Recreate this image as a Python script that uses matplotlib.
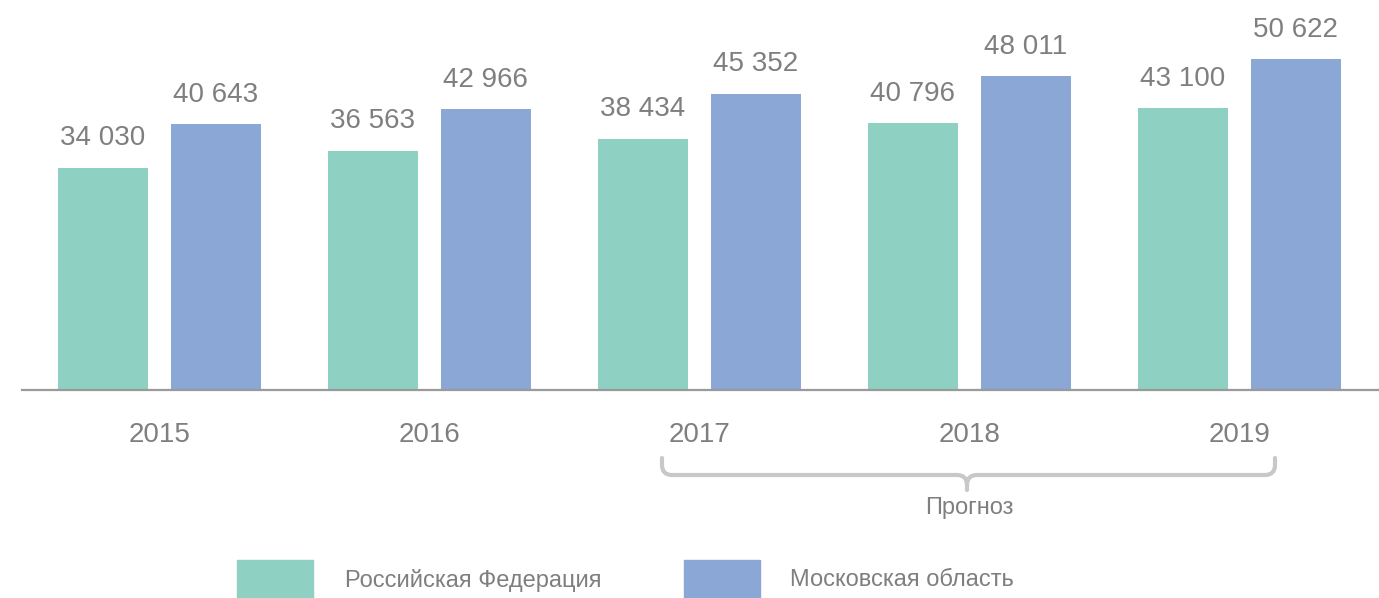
import matplotlib.pyplot as plt
from matplotlib.patches import Rectangle, PathPatch
from matplotlib.path import Path
import numpy as np

years = ['2015', '2016', '2017', '2018', '2019']
rf_values = [34030, 36563, 38434, 40796, 43100]
mo_values = [40643, 42966, 45352, 48011, 50622]
series_names = ['Российская Федерация', 'Московская область']
forecast_label = 'Прогноз'

rf_color = '#8ed1c3'
mo_color = '#8ba7d6'
text_color = '#7f7f7f'

plt.rcParams['font.family'] = ['Liberation Sans', 'DejaVu Sans']

W, H = 1379, 598
fig = plt.figure(figsize=(W / 100, H / 100), dpi=100)
ax = fig.add_axes([22 / W, 208 / H, (W - 22) / W, 390 / H])

x = np.arange(len(years))
width = 90 / 270
off = 56.5 / 270
ax.bar(x - off, rf_values, width, color=rf_color)
ax.bar(x + off, mo_values, width, color=mo_color)

def fmt(v):
    return f'{v:,}'.replace(',', ' ')

for xi, v in zip(x - off, rf_values):
    ax.annotate(fmt(v), (xi, v), xytext=(0, 12), textcoords='offset points',
                ha='center', va='bottom', fontsize=20, color=text_color)
for xi, v in zip(x + off, mo_values):
    ax.annotate(fmt(v), (xi, v), xytext=(0, 12), textcoords='offset points',
                ha='center', va='bottom', fontsize=20, color=text_color)

ax.set_xlim(-0.509, 4.517)
ax.set_ylim(0, 59700)
for s in ['top', 'right', 'left']:
    ax.spines[s].set_visible(False)
ax.spines['bottom'].set_color('#9a9a9a')
ax.spines['bottom'].set_linewidth(1.6)
ax.set_yticks([])
ax.set_xticks(x)
ax.set_xticklabels(years, fontsize=20, color=text_color)
ax.tick_params(axis='x', length=0, pad=23)

# скобка "Прогноз" (в пикселях картинки, y вниз)
def fp(px, py):
    return (px / W, 1 - py / H)

verts = [fp(662, 458), fp(662, 465), fp(662, 475), fp(672, 475), fp(957, 475),
         fp(967, 475), fp(967, 485), fp(967, 490),
         fp(1275, 458), fp(1275, 465), fp(1275, 475), fp(1265, 475), fp(977, 475),
         fp(967, 475), fp(967, 485)]
codes = [Path.MOVETO, Path.LINETO, Path.CURVE3, Path.CURVE3, Path.LINETO,
         Path.CURVE3, Path.CURVE3, Path.LINETO,
         Path.MOVETO, Path.LINETO, Path.CURVE3, Path.CURVE3, Path.LINETO,
         Path.CURVE3, Path.CURVE3]
fig.add_artist(PathPatch(Path(verts, codes), facecolor='none', edgecolor='#c8c8c8',
                         lw=3, capstyle='round', joinstyle='round',
                         transform=fig.transFigure))
fig.text(969 / W, 1 - 508 / H, forecast_label, ha='center', va='center',
         fontsize=17, color=text_color)

# легенда
for (lx, tx), name, col in zip([(237, 345), (684, 790)], series_names, [rf_color, mo_color]):
    fig.add_artist(Rectangle((lx / W, 0), 76 / W, 38 / H, color=col,
                             transform=fig.transFigure))
    fig.text(tx / W, 1 - 580 / H, name, ha='left', va='center',
             fontsize=17, color=text_color)

fig.savefig('out.png', dpi=100)
